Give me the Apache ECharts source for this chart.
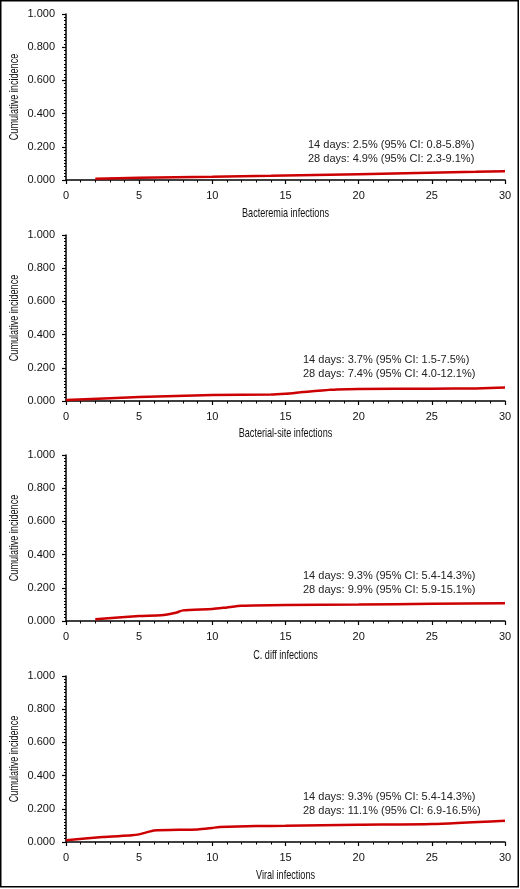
<!DOCTYPE html>
<html>
  <head>
    <meta charset='UTF-8'>
    <title>Cumulative incidence of infections</title>
    <script src="https://cdn.jsdelivr.net/npm/echarts@6/dist/echarts.min.js"></script>
    <style>
      html, body { margin: 0; padding: 0; background: #fff; }
      #main { width: 520px; height: 889px; }
    </style>
  </head>
  <body>
    <div id="main"></div>
    <script type="text/javascript">
      // values
      var xTicks = [0, 5, 10, 15, 20, 25, 30];
      var yTicks = [0, 0.2, 0.4, 0.6, 0.8, 1.0];

      var panelNames = ['Bacteremia infections', 'Bacterial-site infections', 'C. diff infections', 'Viral infections'];
      var yName = 'Cumulative incidence';

      var bactDays = [2, 5, 10, 14, 20, 28, 30];
      var bactCI   = [0.008, 0.013, 0.019, 0.025, 0.035, 0.049, 0.053];

      var siteDays = [0, 5, 10, 14, 15, 16, 17, 18, 18.5, 20, 25, 28, 30];
      var siteCI   = [0.006, 0.024, 0.036, 0.039, 0.044, 0.052, 0.060, 0.067, 0.070, 0.072, 0.074, 0.076, 0.081];

      var cdiffDays = [2, 5, 6.5, 7.5, 8, 10, 11, 12, 15, 20, 25, 30];
      var cdiffCI   = [0.010, 0.030, 0.034, 0.050, 0.064, 0.072, 0.082, 0.092, 0.097, 0.099, 0.104, 0.107];

      var viralDays = [0, 2.5, 4.5, 5, 5.5, 6, 9, 10, 10.5, 13, 15, 20, 25, 30];
      var viralCI   = [0.010, 0.030, 0.040, 0.046, 0.058, 0.070, 0.076, 0.085, 0.090, 0.096, 0.098, 0.104, 0.108, 0.128];

      var notes14 = ['14 days: 2.5% (95% CI: 0.8-5.8%)', '14 days: 3.7% (95% CI: 1.5-7.5%)',
                     '14 days: 9.3% (95% CI: 5.4-14.3%)', '14 days: 9.3% (95% CI: 5.4-14.3%)'];
      var notes28 = ['28 days: 4.9% (95% CI: 2.3-9.1%)', '28 days: 7.4% (95% CI: 4.0-12.1%)',
                     '28 days: 9.9% (95% CI: 5.9-15.1%)', '28 days: 11.1% (95% CI: 6.9-16.5%)'];

      var days = [bactDays, siteDays, cdiffDays, viralDays];
      var incidence = [bactCI, siteCI, cdiffCI, viralCI];

      // layout
      var gridTops = [14, 235, 455, 676];
      var noteX = [308, 303, 303, 303];
      var noteY = [146, 361, 577, 798];
      var xNameY = [213, 433, 655, 875];

      var myChart = echarts.init(document.getElementById('main'));

      var grids = [], xAxes = [], yAxes = [], series = [], texts = [];
      var tickFont = "'Liberation Sans', Arial, sans-serif";
      var narrow = 0.7; // axis titles are set in a condensed face

      for (var i = 0; i < 4; i++) {
        grids.push({ left: 66, right: 15, top: gridTops[i], height: 166 });
        xAxes.push({
          gridIndex: i, type: 'value', min: xTicks[0], max: xTicks[xTicks.length - 1], interval: 5,
          offset: 3,
          axisLine: { lineStyle: { color: '#000', width: 1.5 } },
          axisTick: { length: 4, lineStyle: { color: '#000', width: 1.2 } },
          minorTick: { show: true, splitNumber: 5, length: 2.5, lineStyle: { color: '#000', width: 1 } },
          axisLabel: { margin: 7, fontFamily: tickFont, fontSize: 11, color: '#111' },
          splitLine: { show: false }
        });
        yAxes.push({
          gridIndex: i, type: 'value', min: yTicks[0], max: yTicks[yTicks.length - 1], interval: 0.2,
          offset: 3,
          axisLine: { show: true, lineStyle: { color: '#000', width: 1.5 } },
          axisTick: { show: true, length: 4, lineStyle: { color: '#000', width: 1.2 } },
          minorTick: { show: true, splitNumber: 10, length: 2, lineStyle: { color: '#000', width: 1 } },
          axisLabel: {
            margin: 8, fontFamily: tickFont, fontSize: 11, color: '#111',
            formatter: function (v) { return v.toFixed(3); }
          },
          splitLine: { show: false }
        });
        var pts = days[i].map(function (d, k) { return [d, incidence[i][k]]; });
        series.push({
          type: 'line', xAxisIndex: i, yAxisIndex: i, data: pts,
          showSymbol: false, smooth: 0.2,
          lineStyle: { color: '#cc0000', width: 2.5 },
          silent: true, animation: false
        });
        texts.push({
          type: 'text', left: noteX[i], top: noteY[i] - 7,
          style: { text: notes14[i], font: '11px ' + tickFont, fill: '#222' }
        });
        texts.push({
          type: 'text', left: noteX[i], top: noteY[i] + 7,
          style: { text: notes28[i], font: '11px ' + tickFont, fill: '#222' }
        });
        // axis titles
        texts.push({
          type: 'text', x: 285.5, y: xNameY[i], scaleX: narrow,
          style: { text: panelNames[i], font: '13px ' + tickFont, fill: '#111',
                   align: 'center', verticalAlign: 'middle' }
        });
        texts.push({
          type: 'text', x: 14, y: gridTops[i] + 83, rotation: Math.PI / 2, scaleX: narrow,
          style: { text: yName, font: '13px ' + tickFont, fill: '#111',
                   align: 'center', verticalAlign: 'middle' }
        });
      }

      texts.push({
        type: 'rect', shape: { x: 0.75, y: 0.75, width: 517.5, height: 886 },
        style: { fill: 'none', stroke: '#000', lineWidth: 1.5 }
      });

      var option = {
        animation: false,
        grid: grids,
        xAxis: xAxes,
        yAxis: yAxes,
        series: series,
        graphic: texts
      };
      myChart.setOption(option, true);
    </script>
  </body>
</html>
